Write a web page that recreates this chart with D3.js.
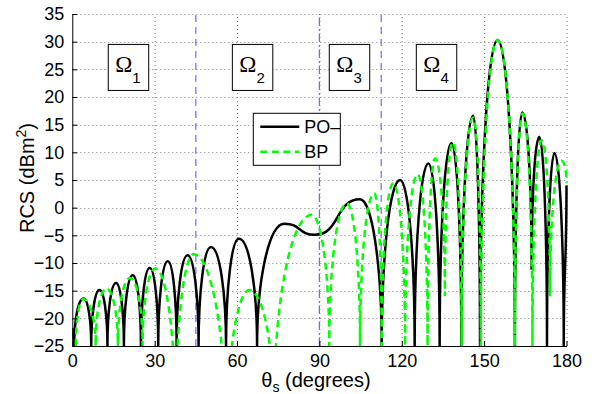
<!DOCTYPE html>
<html>
<head>
<meta charset="utf-8">
<script src="https://cdnjs.cloudflare.com/ajax/libs/d3/7.8.5/d3.min.js"></script>
<style>
  body { margin: 0; background: #fff; }
  svg text { font-family: "Liberation Sans", Arial, sans-serif; fill: #000; }
</style>
</head>
<body>
<svg id="chart" width="592" height="394"></svg>
<script>
// ticks
var xTicks = [0, 30, 60, 90, 120, 150, 180];
var yTicks = [-25, -20, -15, -10, -5, 0, 5, 10, 15, 20, 25, 30, 35];

// region boundaries (degrees) and names
var bounds = [45, 90, 112.5];
var regions = ["1", "2", "3", "4"];

// PO- curve : lobe peaks and nulls
var poAngles = [0, 0.7, 4.1, 6.9, 9.9, 12.8, 15.9, 18.8, 22.0, 25.0, 28.2, 31.3, 34.8, 38.0, 42.0, 46.0,
  50.5, 56.0, 60.7, 67.3, 77.2, 88.4, 104.8, 112.7, 119.4, 124.7, 129.7, 133.8, 138.1, 141.7, 146.0,
  148.5, 154.9, 161.2, 163.9, 167.3, 170.1, 172.9, 175.6, 179.0, 180];
var poRcs = [-21.8, -25, -16.4, -25, -14.9, -25, -13.6, -25, -12.2, -25, -10.9, -25, -9.7, -25, -8.6, -25,
  -7.1, -25, -5.6, -25, -2.9, -4.9, 1.5, -25, 5.0, -25, 8.0, -25, 11.7, -25, 16.6,
  -25, 30.3, -25, 17.2, -11.2, 12.8, -25, 9.9, -25, 4.0];

// BP curve
var bpAngles = [1.3, 4.0, 8.5, 12.4, 16.6, 21.0, 25.6, 30.3, 37.6, 44.2, 56.2, 64.5, 73.4, 87.2, 93.6,
  100.0, 104.8, 110.0, 112.7, 116.9, 121.2, 125.8, 129.4, 132.1, 135.7, 138.6, 141.8, 146.0, 148.8,
  154.9, 161.2, 164.0, 167.6, 171.0, 174.0, 178.2, 180];
var bpRcs = [-25, -16.5, -25, -14.6, -25, -12.7, -25, -11.0, -39, -8.4, -43, -14.9, -37, -1.3, -25,
  0.8, -25, 2.6, -25, 4.4, -25, 6.0, -25, 8.9, -16, 11.8, -25, 16.3, -25,
  30.3, -25, 17.0, -25, 12.2, -16, 8.5, 4.5];

var svg = d3.select("#chart");
var x = d3.scaleLinear().domain([0, 180]).range([72.3, 566.5]);
var y = d3.scaleLinear().domain([-25, 35]).range([346, 14]);

svg.append("rect").attr("width", 592).attr("height", 394).attr("fill", "#fff");

// dotted grid
var grid = svg.append("g").attr("stroke", "#808080").attr("stroke-width", 1).attr("stroke-dasharray", "1,3");
grid.selectAll(".gx").data(xTicks.slice(1)).enter().append("line")
  .attr("x1", d => x(d) + 0.5).attr("x2", d => x(d) + 0.5)
  .attr("y1", y(-25)).attr("y2", y(35));
grid.selectAll(".gy").data(yTicks.slice(1)).enter().append("line")
  .attr("y1", d => Math.round(y(d)) + 0.5).attr("y2", d => Math.round(y(d)) + 0.5)
  .attr("x1", x(0)).attr("x2", x(180));

// region boundary lines
var dashes = ["7,5", "8,3,2,3", "7,5"];
svg.selectAll(".bound").data(bounds).enter().append("line")
  .attr("x1", d => x(d)).attr("x2", d => x(d))
  .attr("y1", y(-25)).attr("y2", y(35))
  .attr("stroke", "#6a6aff").attr("stroke-width", 1.2)
  .attr("stroke-dasharray", (d, i) => dashes[i]);

// lobe path : quarter-ellipse style beziers between extrema
function lobePath(angles, vals) {
  var pts = angles.map((a, i) => [x(a), y(vals[i])]);
  var n = pts.length;
  var kind = vals.map((v, i) => {
    if (i == 0 || i == n - 1) return "v";
    var a = vals[i - 1], b = vals[i + 1];
    if (v > a && v > b) return "h";
    if (v <= -25 || (a - v >= 10 && b - v >= 10)) return "v";
    return "h";
  });
  var k = 0.5523;
  var p = d3.path();
  p.moveTo(pts[0][0], pts[0][1]);
  for (var i = 0; i < n - 1; i++) {
    var x0 = pts[i][0], y0 = pts[i][1], x1 = pts[i + 1][0], y1 = pts[i + 1][1];
    var dx = x1 - x0, dy = y1 - y0;
    var c1 = kind[i] == "h" ? [x0 + k * dx, y0] : [x0, y0 + k * dy];
    var c2 = kind[i + 1] == "h" ? [x1 - k * dx, y1] : [x1, y1 - k * dy];
    p.bezierCurveTo(c1[0], c1[1], c2[0], c2[1], x1, y1);
  }
  return p.toString();
}

svg.append("clipPath").attr("id", "plotclip").append("rect")
  .attr("x", x(0)).attr("y", y(35) - 3).attr("width", x(180) - x(0) + 3).attr("height", y(-25) - y(35) + 3);

var curves = svg.append("g").attr("clip-path", "url(#plotclip)").attr("fill", "none");
curves.append("path").attr("d", lobePath(poAngles, poRcs))
  .attr("stroke", "#000").attr("stroke-width", 2.5);
curves.append("path").attr("d", lobePath(bpAngles, bpRcs))
  .attr("stroke", "#00ff00").attr("stroke-width", 2.5).attr("stroke-dasharray", "7,4.5");

// axes
var xAxis = d3.axisBottom(x).tickValues(xTicks).tickSize(-5).tickSizeOuter(0).tickPadding(9);
var yAxis = d3.axisLeft(y).tickValues(yTicks).tickSize(-5).tickSizeOuter(0).tickPadding(8);
var gx = svg.append("g").attr("transform", "translate(0," + y(-25) + ")").call(xAxis);
var gy = svg.append("g").attr("transform", "translate(" + x(0) + ",0)").call(yAxis);
svg.selectAll(".tick text").style("font-size", "18px").style("font-family", "Liberation Sans, Arial, sans-serif");
gx.selectAll(".tick text").attr("dy", "0.66em");
svg.selectAll(".domain, .tick line").attr("stroke", "#000");

// axis labels
var yl = svg.append("text").attr("transform", "translate(34," + 178 + ") rotate(-90)")
  .attr("text-anchor", "middle").style("font-size", "20px");
yl.append("tspan").text("RCS (dBm");
yl.append("tspan").attr("dy", -8).style("font-size", "14px").text("2");
yl.append("tspan").attr("dy", 8).text(")");

var xl = svg.append("text").attr("x", 316).attr("y", 387)
  .attr("text-anchor", "middle").style("font-size", "20px");
xl.append("tspan").text("θ");
xl.append("tspan").attr("dy", 5).style("font-size", "14px").text("s");
xl.append("tspan").attr("dy", -5).text(" (degrees)");

// region labels
var boxLeft = [13.1, 58.3, 93.6, 125.3];
regions.forEach(function (r, i) {
  var g = svg.append("g");
  var bx = x(boxLeft[i]), by = y(29.5);
  var rect = g.append("rect").attr("fill", "#fff").attr("stroke", "#000").attr("stroke-width", 1);
  var t = g.append("text").attr("x", bx + 7).attr("y", by + 27.5);
  t.append("tspan").style("font-family", "Liberation Serif, Times New Roman, serif").style("font-size", "23px").text("Ω");
  t.append("tspan").attr("dy", 11.5).style("font-size", "15px").text(r);
  var w = t.node().getBBox().width;
  rect.attr("x", bx).attr("y", by).attr("width", w + 15).attr("height", 46);
});

// legend
var lg = svg.append("g").attr("transform", "translate(253.3,113.3)");
lg.append("rect").attr("width", 87).attr("height", 52).attr("fill", "#fff").attr("stroke", "#000");
lg.append("line").attr("x1", 7).attr("x2", 46).attr("y1", 13.4).attr("y2", 13.4)
  .attr("stroke", "#000").attr("stroke-width", 2.5);
lg.append("line").attr("x1", 7).attr("x2", 46).attr("y1", 38.4).attr("y2", 38.4)
  .attr("stroke", "#00ff00").attr("stroke-width", 2.5).attr("stroke-dasharray", "7,4.5");
lg.append("text").attr("x", 51).attr("y", 19.8).style("font-size", "18px").text("PO–");
lg.append("text").attr("x", 51).attr("y", 44.8).style("font-size", "18px").text("BP");
</script>
</body>
</html>
